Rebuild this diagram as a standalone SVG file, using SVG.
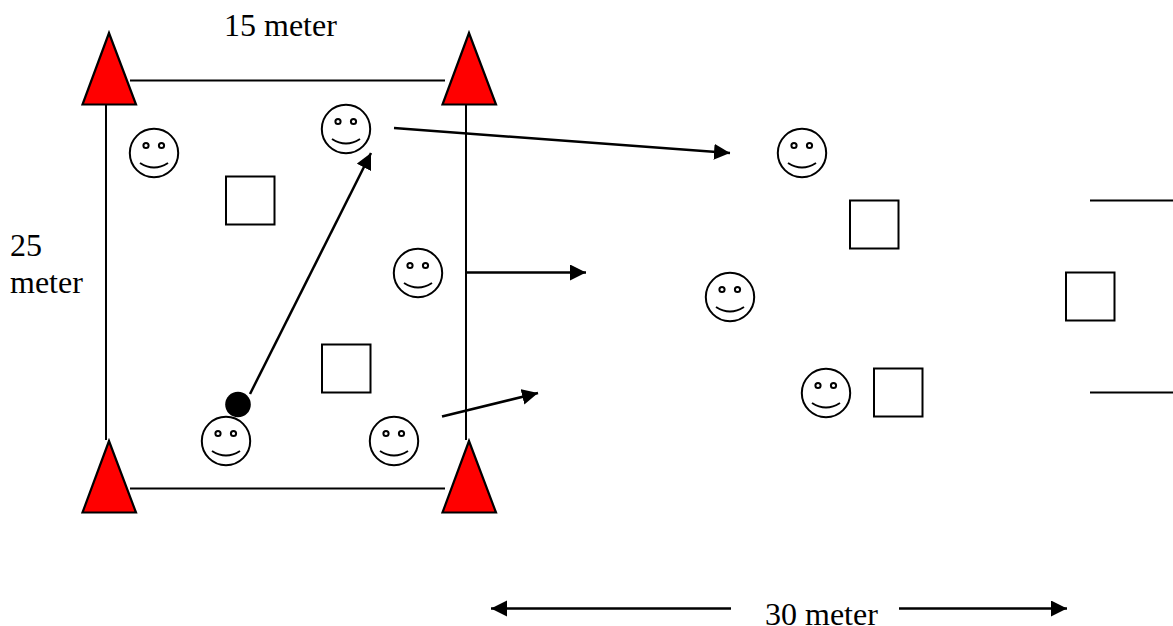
<svg xmlns="http://www.w3.org/2000/svg" width="1173" height="626" viewBox="0 0 1173 626">
<style>
.l{stroke:#000;stroke-width:2;fill:none}
.c{stroke:#000;stroke-width:2.5;fill:none}
.t{fill:#f00;stroke:#000;stroke-width:2.2;stroke-linejoin:miter}
.s{fill:#fff;stroke:#000;stroke-width:2}
.f{fill:#fff;stroke:#000;stroke-width:2}
.m{fill:none;stroke:#000;stroke-width:2}
text{font-family:"Liberation Serif","Times New Roman",serif;font-size:32px;fill:#000}
</style>
<defs>
<marker id="a" markerUnits="userSpaceOnUse" markerWidth="18" markerHeight="18" refX="16" refY="8" orient="auto-start-reverse"><path d="M0 0L16 8L0 16Z" fill="#000"/></marker>
<g id="smile"><circle class="f" r="24.200"/><circle class="m" cx="-8" cy="-7.500" r="2.600"/><circle class="m" cx="7.500" cy="-7.500" r="2.600"/><path class="m" d="M-14 10Q0 19 14 10"/></g>
</defs>
<g id="field">
<path class="l" d="M106 104V440M130 80.500H445M130 488.500H445M466 104V440"/>
</g>
<g id="connectors">
<path class="c" marker-end="url(#a)" d="M250 394L371 153"/>
<path class="c" marker-end="url(#a)" d="M394 128L730 153"/>
<path class="c" marker-end="url(#a)" d="M467 272.500H586"/>
<path class="c" marker-end="url(#a)" d="M442 416.500L538 393"/>
<path class="c" marker-start="url(#a)" d="M491 608.500H731"/>
<path class="c" marker-end="url(#a)" d="M899 608.500H1067"/>
<path class="l" d="M1090 200.500H1173M1090 392.500H1173"/>
</g>
<g id="cone-tl"><path class="t" d="M109 33L82.500 104.500H136Z"/></g>
<g id="cone-tr"><path class="t" d="M469 33L442.500 104.500H496Z"/></g>
<g id="cone-bl"><path class="t" d="M109 441L82.500 512.500H136Z"/></g>
<g id="cone-br"><path class="t" d="M469 441L442.500 512.500H496Z"/></g>
<g id="ball"><circle cx="238" cy="404.500" r="12.800" fill="#000"/></g>
<g id="s1"><use href="#smile" x="154" y="153"/></g>
<g id="s2"><use href="#smile" x="346" y="129"/></g>
<g id="s3"><use href="#smile" x="418" y="273"/></g>
<g id="s4"><use href="#smile" x="226" y="441"/></g>
<g id="s5"><use href="#smile" x="394" y="441"/></g>
<g id="s6"><use href="#smile" x="802" y="153"/></g>
<g id="s7"><use href="#smile" x="730" y="297"/></g>
<g id="s8"><use href="#smile" x="826" y="393"/></g>
<g id="b1"><rect class="s" x="226" y="176.500" width="48.500" height="48"/></g>
<g id="b2"><rect class="s" x="322" y="344.500" width="48.500" height="48"/></g>
<g id="b3"><rect class="s" x="850" y="200.500" width="48.500" height="48"/></g>
<g id="b4"><rect class="s" x="1066" y="272.500" width="48.500" height="48"/></g>
<g id="b5"><rect class="s" x="874" y="368.500" width="48.500" height="48"/></g>
<g id="labels">
<text x="224" y="36">15 meter</text>
<text x="10" y="256">25</text>
<text x="10" y="293">meter</text>
<text x="765" y="625">30 meter</text>
</g>
</svg>
